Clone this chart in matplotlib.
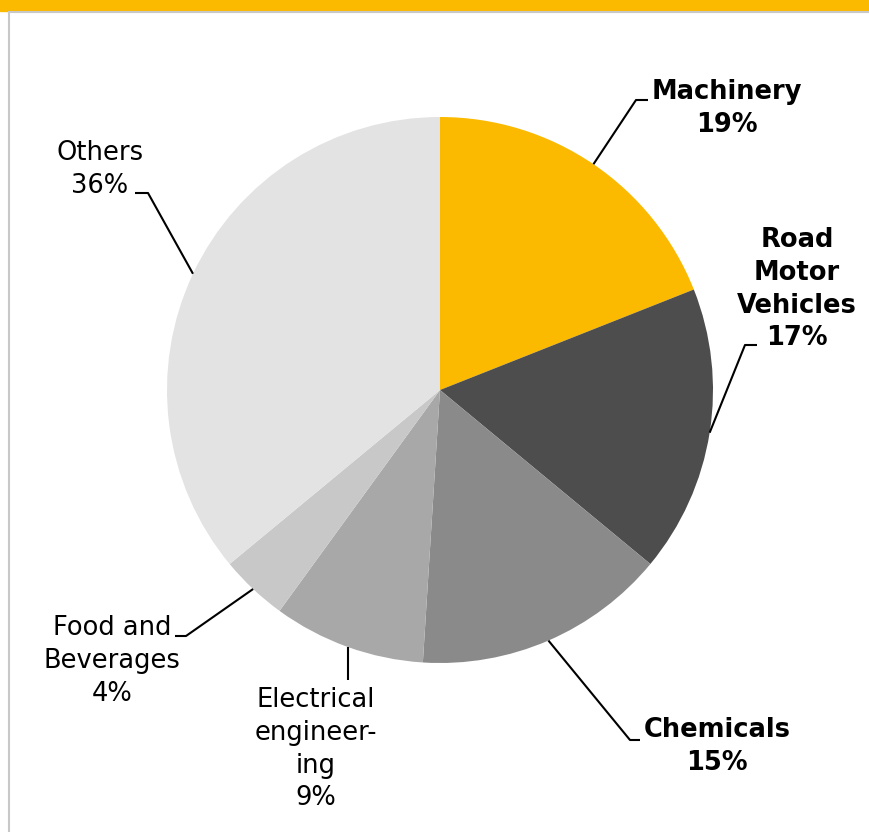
import numpy as np
import matplotlib
matplotlib.use('Agg')
from matplotlib import pyplot as plt

sectors = ['Machinery', 'Road\nMotor\nVehicles', 'Chemicals',
           'Electrical\nengineer-\ning', 'Food and\nBeverages', 'Others']
shares = [19, 17, 15, 9, 4, 36]
colors = ['#FBBA00', '#4D4D4D', '#8A8A8A', '#A8A8A8', '#C8C8C8', '#E3E3E3']
bold = [True, True, True, False, False, False]

# label placement in pixels (text centre x, top y) and leader elbow
label_pos = [(727, 79), (797, 227), (717, 717), (316, 687), (112, 615), (100, 140)]
elbows = [(636, 100), (745, 345), (630, 740), (None, 680), (186, 636), (148, 193)]
ends = [(648, 100), (757, 345), (640, 740), (None, 680), (175, 636), (135, 193)]

W, H = 869, 832
cx, cy, r = 440, H - 390, 273


def main():
    fig = plt.figure(figsize=(W / 100, H / 100), dpi=100)
    ax = fig.add_axes([0, 0, 1, 1])

    ax.pie(shares, colors=colors, startangle=90, counterclock=False,
           center=(cx, cy), radius=r, wedgeprops=dict(linewidth=0))
    ax.set_xlim(0, W)
    ax.set_ylim(0, H)
    ax.set_aspect('equal', adjustable='box')
    ax.axis('off')

    # header band and frame
    ax.add_patch(plt.Rectangle((0, H - 11), W, 11, color='#FBBA00', zorder=5))
    ax.plot([9, W], [H - 12, H - 12], color='#C8C8C8', lw=1.5, zorder=5)
    ax.plot([9, 9], [0, H - 12], color='#C8C8C8', lw=1.5, zorder=5)

    total = sum(shares)
    cum = 0
    for i, s in enumerate(shares):
        mid = (cum + s / 2) / total * 2 * np.pi
        cum += s
        px, py = cx + r * np.sin(mid), cy + r * np.cos(mid)
        ex, ey = elbows[i]
        fx, fy = ends[i]
        if ex is None:
            ex = fx = px
        ax.plot([px, ex, fx], [py, H - ey, H - fy], color='black', lw=1.5,
                solid_capstyle='butt', zorder=4)
        tx, ty = label_pos[i]
        ax.text(tx, H - ty, f'{sectors[i]}\n{s}%', ha='center', va='top',
                fontsize=18.5, fontweight='bold' if bold[i] else 'normal',
                linespacing=1.34, family='DejaVu Sans')

    fig.savefig('out.png', dpi=100)
    plt.close(fig)


if __name__ == '__main__':
    main()
